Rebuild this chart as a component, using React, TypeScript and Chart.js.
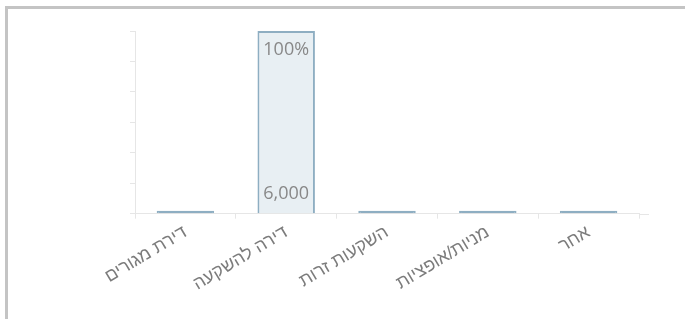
import React, { useEffect, useRef } from "react";
import { Chart, registerables } from "chart.js";

Chart.register(...registerables);

const categories = ["דירת מגורים", "דירה להשקעה", "השקעות זרות", "מניות/אופציות", "אחר"];
const amounts = [0, 6000, 0, 0, 0];
const yTicks = [0, 1000, 2000, 3000, 4000, 5000, 6000];

const labelPlugin = {
  id: "barLabels",
  afterDatasetsDraw(chart: any) {
    const ctx = chart.ctx;
    const meta = chart.getDatasetMeta(0);
    const total = amounts.reduce((a, b) => a + b, 0);
    ctx.save();
    ctx.fillStyle = "#888888";
    ctx.font = "18px 'Open Sans', 'Liberation Sans', Arial, sans-serif";
    ctx.textAlign = "center";
    ctx.textBaseline = "middle";
    meta.data.forEach((bar: any, i: number) => {
      const v = amounts[i];
      if (!v) return;
      const pct = Math.round((v / total) * 100) + "%";
      ctx.fillText(pct, bar.x, bar.y + 19);
      ctx.fillText(v.toLocaleString("en-US"), bar.x, bar.base - 19);
    });
    ctx.restore();
  },
  afterDraw(chart: any) {
    const { ctx, chartArea } = chart;
    ctx.save();
    ctx.strokeStyle = "#e6e6e6";
    ctx.lineWidth = 1;
    ctx.beginPath();
    ctx.moveTo(chartArea.right, Math.round(chartArea.bottom) + 0.5);
    ctx.lineTo(chartArea.right + 10, Math.round(chartArea.bottom) + 0.5);
    ctx.stroke();
    ctx.restore();
  },
};

export default function App() {
  const ref = useRef<HTMLCanvasElement | null>(null);
  useEffect(() => {
    if (!ref.current) return;
    const chart = new Chart(ref.current, {
      type: "bar",
      data: {
        labels: categories,
        datasets: [
          {
            data: amounts,
            backgroundColor: (c: any) => (amounts[c.dataIndex] ? "#e8eff3" : "#8eaec2"),
            borderColor: "#8eaec2",
            borderWidth: 2,
            minBarLength: 3,
            barPercentage: 0.57,
            categoryPercentage: 1,
          },
        ],
      },
      options: {
        responsive: false,
        animation: false,
        layout: { padding: { top: 31, right: 46, bottom: 21, left: 0 } },
        plugins: { legend: { display: false }, tooltip: { enabled: false } },
        scales: {
          x: {
            grid: { drawOnChartArea: false, drawTicks: true, tickLength: 5, color: "#e6e6e6" },
            border: { color: "#e6e6e6" },
            ticks: {
              color: "#7c7c7c",
              font: { size: 18, family: "'Liberation Sans', Arial, sans-serif" },
              minRotation: 31,
              maxRotation: 31,
              autoSkip: false,
            },
          },
          y: {
            min: 0,
            max: 6000,
            afterBuildTicks: (axis: any) => {
              axis.ticks = yTicks.map((v) => ({ value: v }));
            },
            afterFit: (axis: any) => {
              axis.width = 135;
            },
            grid: { drawOnChartArea: false, drawTicks: true, tickLength: 5, color: "#e6e6e6" },
            border: { color: "#e6e6e6" },
            ticks: { display: false },
          },
        },
      },
      plugins: [labelPlugin],
    });
    return () => chart.destroy();
  }, []);
  return (
    <div>
      <div
        style={{
          position: "absolute",
          left: 5,
          top: 6,
          width: 700,
          height: 330,
          borderTop: "3px solid #c4c4c4",
          borderLeft: "3px solid #c4c4c4",
          boxSizing: "border-box",
        }}
      />
      <canvas
        ref={ref}
        width={685}
        height={319}
        style={{ position: "absolute", left: 0, top: 0, width: 685, height: 319 }}
      />
    </div>
  );
}
